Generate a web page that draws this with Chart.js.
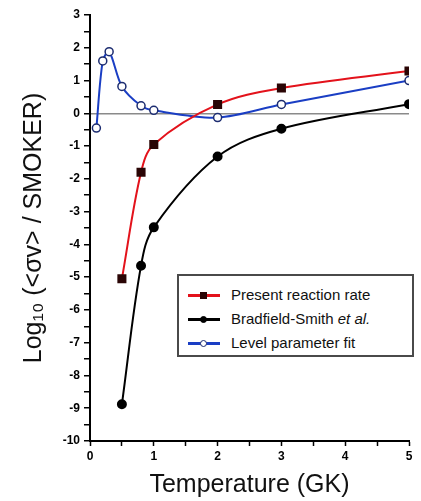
<!DOCTYPE html>
<html>
<head>
<meta charset="utf-8">
<script src="https://cdn.jsdelivr.net/npm/chart.js@4"></script>
<style>
  body { margin: 0; background: #fff; }
  #wrap { position: relative; width: 421px; height: 501px; }
  #legend {
    position: absolute; left: 177px; top: 274px; width: 237px; height: 83px;
    border: 2px solid #4a4a4a; box-sizing: border-box; background: #fff;
    font-family: "Liberation Sans", Arial, sans-serif; font-size: 15px; color: #111;
    padding-top: 7px;
  }
  .row { position: relative; height: 24px; line-height: 24px; padding-left: 52px; white-space: nowrap; }
  .row .ln { position: absolute; left: 9px; top: 11px; width: 32px; height: 3px; }
  .row .mk { position: absolute; box-sizing: border-box; }
</style>
</head>
<body>
<div id="wrap">
  <canvas id="rateChart"></canvas>
  <div id="legend"></div>
</div>
<script>
var seriesNames = ["Present reaction rate", "Bradfield-Smith <i>et al.</i>", "Level parameter fit"];

var redT = [0.5, 0.8, 1, 2, 3, 5];
var redY = [-5.05, -1.8, -0.95, 0.27, 0.77, 1.29];

var blackT = [0.5, 0.8, 1, 2, 3, 5];
var blackY = [-8.88, -4.65, -3.48, -1.32, -0.47, 0.28];

var blueT = [0.1, 0.2, 0.3, 0.5, 0.8, 1, 2, 3, 5];
var blueY = [-0.45, 1.6, 1.88, 0.82, 0.23, 0.09, -0.13, 0.27, 1.0];

function pts(xs, ys) {
    return xs.map(function (x, i) { return {x: x, y: ys[i]}; });
}

var font = "'Liberation Sans', Arial, sans-serif";

new Chart("rateChart", {
    type: "line",
    data: {
        datasets: [{
            label: seriesNames[0],
            data: pts(redT, redY),
            borderColor: "#e3121b",
            borderWidth: 2,
            pointStyle: "rect",
            pointRadius: 5,
            pointBackgroundColor: "#2a0505",
            pointBorderColor: "#2a0505",
            tension: 0.35
        }, {
            label: seriesNames[1],
            data: pts(blackT, blackY),
            borderColor: "#000",
            borderWidth: 2,
            pointRadius: 4,
            pointBackgroundColor: "#000",
            pointBorderColor: "#000",
            tension: 0.35
        }, {
            label: seriesNames[2],
            data: pts(blueT, blueY),
            borderColor: "#1a3ec4",
            borderWidth: 2,
            pointRadius: 4,
            pointBorderWidth: 1.5,
            pointBackgroundColor: "#fff",
            pointBorderColor: "#1c2c70",
            tension: 0.3
        }]
    },
    options: {
        responsive: true,
        maintainAspectRatio: false,
        animation: false,
        layout: {
            padding: {top: 15, right: 12, left: 0, bottom: 0}
        },
        plugins: {
            legend: { display: false },
            tooltip: { enabled: false }
        },
        scales: {
            x: {
                type: "linear",
                min: 0,
                max: 5,
                afterFit: function (s) { s.height = 60; },
                border: { color: "#000", width: 2 },
                grid: {
                    drawOnChartArea: false,
                    tickLength: 5,
                    tickColor: "#000",
                    tickWidth: 1.5
                },
                ticks: {
                    stepSize: 0.5,
                    maxRotation: 0,
                    autoSkip: false,
                    padding: 3,
                    color: "#000",
                    font: { family: font, size: 12, weight: "bold" },
                    callback: function (v) { return Number.isInteger(v) ? v : ""; }
                },
                title: {
                    display: true,
                    text: "Temperature (GK)",
                    color: "#111",
                    font: { family: font, size: 25 },
                    padding: { top: 0, bottom: 1 }
                }
            },
            y: {
                min: -10,
                max: 3,
                afterFit: function (s) { s.width = 90; },
                border: { color: "#000", width: 2 },
                grid: {
                    color: function (c) { return c.tick && c.tick.value === 0 ? "#8a8a8a" : "rgba(0,0,0,0)"; },
                    lineWidth: 1.5,
                    tickLength: 6,
                    tickColor: "#000",
                    tickWidth: 1.5
                },
                ticks: {
                    stepSize: 0.5,
                    autoSkip: false,
                    padding: 4,
                    color: "#000",
                    font: { family: font, size: 12, weight: "bold" },
                    callback: function (v) { return Number.isInteger(v) ? v : ""; }
                },
                title: {
                    display: true,
                    text: "Log\u2081\u2080 (<\u03c3v> / SMOKER)",
                    color: "#111",
                    font: { family: font, size: 25 },
                    padding: { top: 19, bottom: 0 }
                }
            }
        }
    }
});

// legend drawn as html, inside the plot like the original
var legendStyles = [
    { line: "#e3121b", shape: "sq", fill: "#2a0505", edge: "#2a0505" },
    { line: "#000", shape: "dot", fill: "#000", edge: "#000" },
    { line: "#1a3ec4", shape: "dot", fill: "#fff", edge: "#1c2c70" }
];
var lg = document.getElementById("legend");
seriesNames.forEach(function (name, i) {
    var st = legendStyles[i];
    var row = document.createElement("div");
    row.className = "row";
    var ln = document.createElement("span");
    ln.className = "ln";
    ln.style.background = st.line;
    var mk = document.createElement("span");
    mk.className = "mk";
    mk.style.background = st.fill;
    mk.style.border = "1.5px solid " + st.edge;
    mk.style.width = "7px";
    mk.style.height = "7px";
    mk.style.left = "21px";
    mk.style.top = "9px";
    if (st.shape === "dot") mk.style.borderRadius = "50%";
    var tx = document.createElement("span");
    tx.innerHTML = name;
    row.appendChild(ln);
    row.appendChild(mk);
    row.appendChild(tx);
    lg.appendChild(row);
});
</script>
</body>
</html>
